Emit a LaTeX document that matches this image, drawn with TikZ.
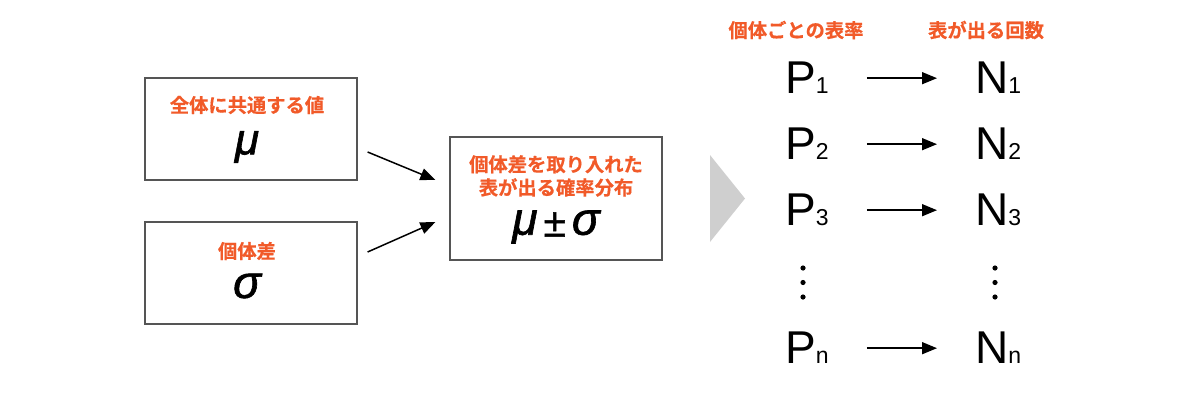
\documentclass[tikz,border=0pt]{standalone}
\usepackage{fontspec}
\usepackage{graphicx}
\setmainfont{Liberation Sans}
\newfontfamily\jp{Noto Sans CJK JP}[UprightFont=* Bold, FakeBold=0.5]
\newfontfamily\gkf{Liberation Sans Italic}[FakeBold=1.4]
\newfontfamily\pmf{Liberation Sans}[FakeBold=1.2]
\usetikzlibrary{arrows.meta}
\definecolor{accent}{HTML}{F15A29}
\definecolor{boxline}{HTML}{555555}
\definecolor{chev}{HTML}{CFCFCF}
\newcommand{\fsz}[1]{\fontsize{#1}{#1}\selectfont}
\tikzset{
  box/.style={draw=boxline, line width=1.2pt, minimum width=212pt, inner sep=0pt},
  lab/.style={text=accent, font=\jp\fsz{19.3}, inner sep=0pt, align=center},
  sym/.style={inner sep=0pt},
  pn/.style={inner sep=0pt, anchor=base west, text depth=0pt},
  arr/.style={line width=1.5pt, -{Triangle[length=15pt,width=12pt]}},
  dotm/.style={fill=black, draw=none},
}
\newcommand{\PN}[2]{{\fsz{46}#1}{\fsz{23}#2}}
\newcommand{\gk}[1]{{\gkf #1}}
\begin{document}
\begin{tikzpicture}[x=1pt,y=-1pt]
\useasboundingbox (0,0) rectangle (1200,400);
% left boxes
\node[box, minimum height=102pt] (b1) at (251,129) {};
\node[box, minimum height=102pt] (b2) at (251,273) {};
\node[box, minimum height=123pt] (b3) at (556,198.5) {};
\node[lab] (l1) at (247,105) {全体に共通する値};
\node[sym, font=\fsz{44}] (m1) at (247,147) {\gk{μ}};
\node[lab] (l2) at (247,251) {個体差};
\node[sym, font=\fsz{46}] (s2) at (247,286) {\gk{σ}};
\node[lab, text depth=0pt] (l3) at (556,175) {個体差を取り入れた\\[4pt]表が出る確率分布};
\node[sym, font=\fsz{46}] (m3) at (556,227) {\gk{μ}\kern6pt\raisebox{-2pt}{\scalebox{1.7}{\pmf\fsz{24}±}}\kern6pt\gk{σ}};
\draw[arr] ([shift={(10,23)}]b1.east) -- ([shift={(-14,-18.5)}]b3.west);
\draw[arr] ([shift={(10,-21)}]b2.east) -- ([shift={(-14,23.5)}]b3.west);
% chevron
\fill[chev] (710,155) -- (745,198.5) -- (710,242) -- cycle;
% right side headers
\node[lab] (h1) at (796,30) {個体ごとの表率};
\node[lab] (h2) at (986,30) {表が出る回数};
% rows
\node[pn] (p1) at (785,93) {\PN{P}{1}};
\node[pn] (p2) at (785,159) {\PN{P}{2}};
\node[pn] (p3) at (785,225) {\PN{P}{3}};
\node[pn] (pn) at (785,363) {\PN{P}{n}};
\node[pn] (n1) at (975,93) {\PN{N}{1}};
\node[pn] (n2) at (975,159) {\PN{N}{2}};
\node[pn] (n3) at (975,225) {\PN{N}{3}};
\node[pn] (nn) at (975,363) {\PN{N}{n}};
\foreach \a/\b in {p1/n1,p2/n2,p3/n3,pn/nn}
  \draw[arr] ([xshift=38pt,yshift=-1pt]\a.east) -- ([xshift=-38pt,yshift=-1pt]\b.west);
% vertical dots
\foreach \yy in {268,282.5,297} {
  \fill[dotm] (803,\yy) circle (2.6);
  \fill[dotm] (995,\yy) circle (2.6);
}
\end{tikzpicture}
\end{document}
